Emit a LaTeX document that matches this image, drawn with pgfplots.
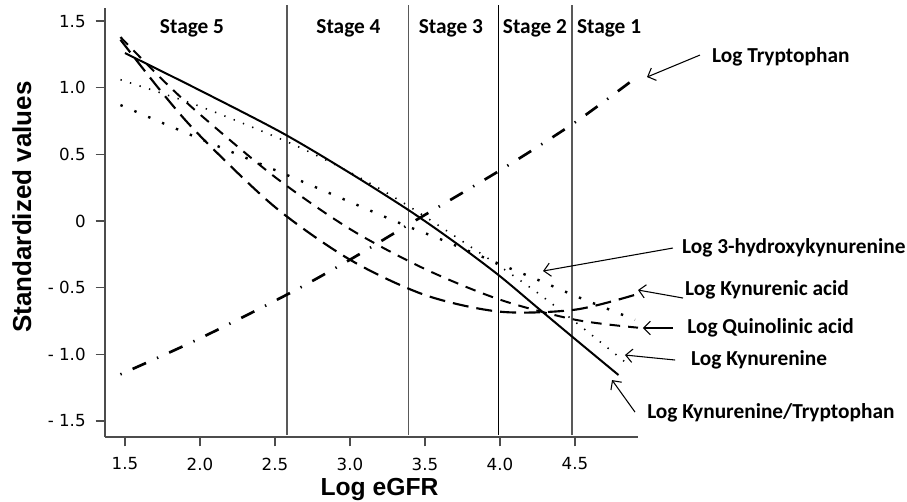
\documentclass[border=0pt]{standalone}
\usepackage{fontspec}
\setmainfont{Carlito}
\newfontfamily\tickfont{DejaVu Sans}
\newfontfamily\labfont{Liberation Sans}
\usepackage{pgfplots}
\pgfplotsset{compat=1.18}
\usetikzlibrary{arrows.meta}

\tikzset{
  lbl/.style={font=\bfseries\fontsize{16}{18}\selectfont, inner sep=0pt},
  arr/.style={black, line width=0.8pt, -{Straight Barb[length=5pt,width=10pt]}},
}

\begin{document}
\begin{tikzpicture}
\path[use as bounding box] (-78.75pt,-48pt) rectangle (601.5pt,327.75pt);
\begin{axis}[
    at={(0,0)}, anchor=south west,
    scale only axis, width=399.75pt, height=321.75pt,
    xmin=1.367, xmax=4.92, ymin=-1.62, ymax=1.598,
    axis lines=left, axis line style={-, gray!60!black, line width=0.9pt},
    tick align=outside, major tick length=7pt,
    tick style={gray!60!black, line width=0.9pt},
    xtick={1.5,2,2.5,3,3.5,4,4.5},
    xticklabels={1.5,2.0,2.5,3.0,3.5,4.0,4.5},
    ytick={-1.5,-1,-0.5,0,0.5,1,1.5},
    yticklabels={- 1.5,- 1.0,- 0.5,0,0.5,1.0,1.5},
    ticklabel style={font=\tickfont\fontsize{12.5}{14}\selectfont},
    xticklabel style={yshift=-5pt},
    yticklabel style={xshift=-4pt},
    xlabel={Log eGFR}, ylabel={Standardized values},
    xlabel style={font=\labfont\bfseries\fontsize{18.5}{20}\selectfont,
        at={(axis description cs:0.515,-0.122)}, anchor=center},
    ylabel style={font=\labfont\bfseries\fontsize{19.5}{21}\selectfont,
        at={(axis description cs:-0.156,0.536)}, anchor=center},
    clip=false,
    every axis plot/.append style={black},
]
% stage boundaries
\addplot[gray!70!black, line width=0.8pt] coordinates {(2.58,-1.605) (2.58,1.62)};
\addplot[gray!70!black, line width=0.8pt] coordinates {(3.39,-1.605) (3.39,1.62)};
\addplot[black, line width=0.7pt] coordinates {(3.99,-1.605) (3.99,1.62)};
\addplot[gray!70!black, line width=0.8pt] coordinates {(4.48,-1.605) (4.48,1.62)};

% Log Tryptophan
\addplot[line width=2pt, dash pattern=on 1pt off 9pt on 11pt off 9pt, smooth] coordinates {
  (1.47,-1.15) (2.0,-0.88) (2.6,-0.54) (3.0,-0.29) (3.4,-0.02) (4.0,0.38) (4.5,0.74) (4.9,1.07)};
% Log Kynurenine/Tryptophan
\addplot[line width=1.5pt, smooth] coordinates {
  (1.5,1.26) (2.0,0.98) (2.55,0.66) (3.0,0.36) (3.4,0.075) (3.7,-0.16) (3.99,-0.405) (4.25,-0.65) (4.5,-0.885) (4.79,-1.155)};
% Log Kynurenic acid
\addplot[line width=1.6pt, dash pattern=on 12pt off 6pt, smooth] coordinates {
  (1.47,1.36) (1.75,0.96) (2.0,0.64) (2.5,0.105) (3.0,-0.29) (3.5,-0.555) (4.0,-0.68) (4.5,-0.665) (4.91,-0.55)};
% Log Quinolinic acid
\addplot[line width=1.5pt, dash pattern=on 8pt off 6pt, smooth] coordinates {
  (1.47,1.38) (1.75,1.06) (2.0,0.80) (2.5,0.33) (3.0,-0.06) (3.5,-0.36) (4.0,-0.59) (4.5,-0.74) (4.92,-0.80)};
% Log Kynurenine
\addplot[line width=1.2pt, dash pattern=on 1pt off 6.5pt, smooth] coordinates {
  (1.47,1.06) (2.0,0.86) (2.6,0.585) (3.0,0.365) (3.38,0.12) (3.92,-0.28) (4.24,-0.53) (4.55,-0.80) (4.87,-1.09)};
% Log 3-hydroxykynurenine
\addplot[line width=1.8pt, dash pattern=on 1.8pt off 9.5pt, smooth] coordinates {
  (1.47,0.87) (1.93,0.65) (2.58,0.345) (3.32,-0.01) (3.6,-0.135) (3.97,-0.31) (4.25,-0.44) (4.52,-0.57) (4.9,-0.74)};

% stage labels
\node[lbl] at (axis cs:1.947,1.447) {Stage 5};
\node[lbl] at (axis cs:2.99,1.447) {Stage 4};
\node[lbl] at (axis cs:3.673,1.447) {Stage 3};
\node[lbl] at (axis cs:4.233,1.447) {Stage 2};
\node[lbl] at (axis cs:4.727,1.447) {Stage 1};

% annotations
\node[lbl, anchor=west] at (axis cs:5.413,1.23) {Log Tryptophan};
\draw[arr] (axis cs:5.333,1.245) -- (axis cs:4.98,1.08);
\node[lbl, anchor=west] at (axis cs:5.213,-0.2025) {Log 3-hydroxykynurenine};
\draw[arr] (axis cs:5.153,-0.2025) -- (axis cs:4.287,-0.375);
\node[lbl, anchor=west] at (axis cs:5.233,-0.5175) {Log Kynurenic acid};
\draw[arr] (axis cs:5.22,-0.5775) -- (axis cs:4.92,-0.5175);
\node[lbl, anchor=west] at (axis cs:5.247,-0.8025) {Log Quinolinic acid};
\draw[arr] (axis cs:5.153,-0.8025) -- (axis cs:4.953,-0.8025);
\node[lbl, anchor=west] at (axis cs:5.273,-1.0425) {Log Kynurenine};
\draw[arr] (axis cs:5.167,-1.0425) -- (axis cs:4.833,-1.005);
\node[lbl, anchor=west] at (axis cs:4.98,-1.44) {Log Kynurenine/Tryptophan};
\draw[arr] (axis cs:4.9,-1.433) -- (axis cs:4.747,-1.193);
\end{axis}
\end{tikzpicture}
\end{document}
